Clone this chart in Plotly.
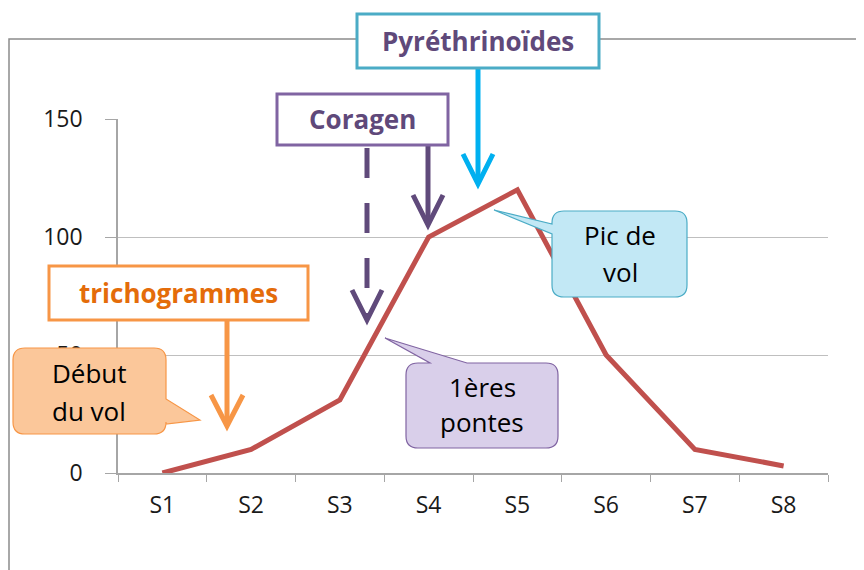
import plotly.graph_objects as go

# data
semaines = ['S1', 'S2', 'S3', 'S4', 'S5', 'S6', 'S7', 'S8']
vols = [0, 10, 31, 100, 120, 50, 10, 3]
y_ticks = [0, 50, 100, 150]

# plot area in page pixels (the page body has an 8px margin)
OFF = 8
X0, X1, Y0, Y1 = 118, 828, 119, 473
W, H = 864 - OFF, 570 - OFF


def fx(x):
    return (x - X0) / (X1 - X0)


def fy(y):
    return (Y1 - y) / (Y1 - Y0)


def pth(points):
    return 'M ' + ' L '.join(f'{fx(x):.5f},{fy(y):.5f}' for x, y in points)


def callout(x0, y0, x1, y1, r, top=(), right=(), left=()):
    # rounded box with a tail, corners drawn with quadratic curves
    def P(x, y):
        return f'{fx(x):.5f},{fy(y):.5f}'
    s = f'M {P(x0 + r, y0)}'
    for p in top:
        s += f' L {P(*p)}'
    s += f' L {P(x1 - r, y0)} Q {P(x1, y0)} {P(x1, y0 + r)}'
    for p in right:
        s += f' L {P(*p)}'
    s += f' L {P(x1, y1 - r)} Q {P(x1, y1)} {P(x1 - r, y1)}'
    s += f' L {P(x0 + r, y1)} Q {P(x0, y1)} {P(x0, y1 - r)}'
    for p in left:
        s += f' L {P(*p)}'
    s += f' L {P(x0, y0 + r)} Q {P(x0, y0)} {P(x0 + r, y0)} Z'
    return s


fig = go.Figure()
fig.add_trace(go.Scatter(x=semaines, y=vols, mode='lines',
                         line=dict(color='#C0504D', width=5), hoverinfo='skip'))

shapes = []
annots = []

# outer frame
shapes.append(dict(type='path', path=pth([(9, 580), (9, 39), (880, 39)]),
                   xref='paper', yref='paper', line=dict(color='#8C8C8C', width=1.5), layer='below'))


def label_box(x0, y0, x1, y1, border, text, color):
    shapes.append(dict(type='rect', xref='paper', yref='paper', x0=fx(x0), x1=fx(x1), y0=fy(y1), y1=fy(y0),
                       fillcolor='white', line=dict(color=border, width=3), layer='above'))
    annots.append(dict(xref='paper', yref='paper', x=fx((x0 + x1) / 2), y=fy((y0 + y1) / 2), text=f'<b>{text}</b>',
                       showarrow=False, font=dict(family='Open Sans', size=26, color=color),
                       xanchor='center', yanchor='middle'))


def arrow(x, y0, y1, color, dash='solid', hw=15, hl=30):
    shapes.append(dict(type='line', xref='paper', yref='paper', x0=fx(x), x1=fx(x), y0=fy(y0), y1=fy(y1 - 4),
                       line=dict(color=color, width=5, dash=dash), layer='above'))
    shapes.append(dict(type='path', xref='paper', yref='paper', path=pth([(x - hw, y1 - hl), (x, y1), (x + hw, y1 - hl)]),
                       line=dict(color=color, width=5), layer='above'))


# arrows
arrow(478, 68, 184, '#00B0F0')
arrow(428, 146, 225, '#604A7B')
arrow(367, 148, 320, '#604A7B', dash='30px,25px')
arrow(227, 320, 426, '#F79646', hw=16, hl=31)

# boxes with labels
label_box(357, 14, 599, 68, '#4BACC6', 'Pyréthrinoïdes', '#5F497A')
label_box(277, 94, 448, 145, '#8064A2', 'Coragen', '#5F497A')
label_box(49, 266, 308, 320, '#F79646', 'trichogrammes', '#E46C0A')

# callouts
shapes.append(dict(type='path', xref='paper', yref='paper', layer='above',
                   path=callout(13, 348, 166, 434, 12, right=[(166, 399), (200, 420), (166, 424)]),
                   fillcolor='#FBC79A', line=dict(color='#F79646', width=1.2)))
shapes.append(dict(type='path', xref='paper', yref='paper', layer='above',
                   path=callout(552, 211, 687, 297, 12, left=[(552, 234), (494, 210), (552, 224)]),
                   fillcolor='#C2E8F5', line=dict(color='#4BACC6', width=1.2)))
shapes.append(dict(type='path', xref='paper', yref='paper', layer='above',
                   path=callout(406, 363, 558, 448, 12, top=[(430, 363), (385, 338), (467, 363)]),
                   fillcolor='#D9CFEA', line=dict(color='#8064A2', width=1.2)))


def callout_text(x, y, text):
    annots.append(dict(xref='paper', yref='paper', x=fx(x), y=fy(y), text=text, showarrow=False,
                       font=dict(family='Open Sans', size=26, color='black'),
                       xanchor='center', yanchor='middle'))


callout_text(89, 373, 'Début')
callout_text(89, 411, 'du vol')
callout_text(620, 235, 'Pic de')
callout_text(620, 272, 'vol')
callout_text(482, 387, '1ères')
callout_text(482, 422, 'pontes')

fig.update_layout(
    width=W, height=H,
    margin=dict(l=X0 - OFF, r=864 - X1, t=Y0 - OFF, b=570 - Y1),
    paper_bgcolor='white', plot_bgcolor='white',
    showlegend=False,
    shapes=shapes, annotations=annots,
    xaxis=dict(type='category', range=[-0.5, 7.5], tickson='boundaries', ticks='outside', ticklen=7,
               tickcolor='#A6A6A6', showline=True, linecolor='#A6A6A6', linewidth=1.5, showgrid=False,
               tickfont=dict(family='Open Sans', size=23, color='#1a1a1a'), ticklabelstandoff=11,
               fixedrange=True),
    yaxis=dict(range=[0, 150], tickvals=y_ticks, ticks='outside', ticklen=11, tickcolor='#A6A6A6',
               showline=True, linecolor='#A6A6A6', linewidth=1.5, showgrid=True, gridcolor='#BFBFBF',
               gridwidth=1.2, zeroline=False, tickfont=dict(family='Open Sans', size=23, color='#1a1a1a'),
               ticklabelstandoff=18, fixedrange=True),
)

fig.write_html('out.html')
